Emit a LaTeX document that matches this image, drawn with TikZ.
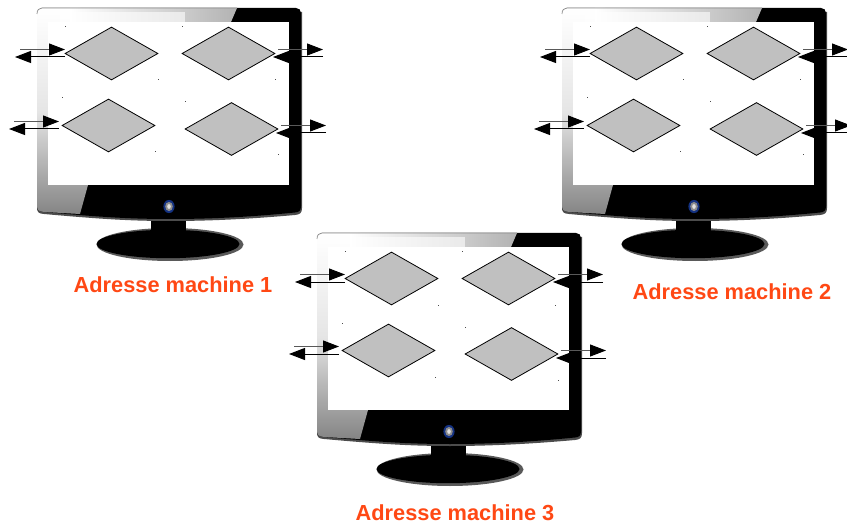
\documentclass[tikz,border=0pt]{standalone}
\usepackage{fontspec}
\setmainfont{Liberation Sans}
\usetikzlibrary{shapes.geometric,arrows.meta,calc}
\definecolor{lbl}{RGB}{255,72,20}
\definecolor{gatefill}{RGB}{192,192,192}
\definecolor{knob}{RGB}{20,50,130}
\tikzset{
  gate/.style={diamond,draw=black,line width=0.8pt,fill=gatefill,minimum width=93pt,minimum height=53pt,inner sep=0pt,aspect=1.75},
  flowup/.style={draw=black!65,line width=1pt,-{Triangle[length=16pt,width=12pt,fill=black,color=black]}},
  flowdn/.style={draw=black,line width=1pt,-{Triangle[length=16pt,width=12pt,fill=black]}},
  tick/.style={fill=black!70,inner sep=0pt,minimum size=1pt,rectangle},
  caption/.style={text=lbl,font=\bfseries\fontsize{21.8}{24}\selectfont,inner sep=0pt,anchor=center}
}
\newcommand{\mymonitor}[3]{%
\begin{scope}[shift={(#2,#3)}]
  % foot
  \fill[black!65] (170,244.5) ellipse (73.5 and 16.5);
  \fill[black] (168,244) ellipse (71.5 and 14.2);
  \fill[black] (151,215) rectangle (186,231.5);
  % frame
  \fill[black!70] (37,12) -- (37,207) .. controls (37,212) and (38,213.5) .. (44,214)
     .. controls (100,219) and (130,221) .. (170,221)
     .. controls (210,221) and (250,219) .. (295,215)
     .. controls (300,214.5) and (302,213) .. (302,208) -- (302,12) -- cycle;
  \fill[black] (37,13) .. controls (37,10) and (39,8) .. (42,8) -- (296,8)
     .. controls (299,8) and (301,10) .. (301,13) -- (301,206)
     .. controls (301,211) and (299,212) .. (295,212.5)
     .. controls (250,217) and (210,219) .. (170,219)
     .. controls (130,219) and (100,217) .. (44,212)
     .. controls (39,211.5) and (37,210) .. (37,206) -- cycle;
  % light part, left
  \shade[top color=white,bottom color=black!48,middle color=black!10]
     (37,14) .. controls (37,10) and (39,8) .. (42,8) -- (80,8) -- (88,185) -- (80,214) -- (44,212)
     .. controls (39,211.5) and (37,210) .. (37,206) -- cycle;
  % light part, top
  \shade[left color=white,right color=black!30] (70,8) -- (237,8) -- (231,22) -- (70,22) -- cycle;
  \fill[white,opacity=0.6] (60,12) rectangle (185,22);
  \draw[black!45,line width=0.7pt] (37,14) .. controls (37,10) and (39,8) .. (42,8) -- (237,8);
  % screen
  \fill[white] (48,22) rectangle (289,185);
  % button
  \fill[knob] (169,206.5) ellipse (5.6 and 6.6);
  \fill[black!45] (169,206.5) ellipse (3.8 and 4.6);
  \fill[black!12] (169,206.5) ellipse (1.8 and 2.4);
  % gates
  \node[gate] (#1a) at (111.5,53.5) {};
  \node[gate] (#1b) at (228.5,53.5) {};
  \node[gate] (#1c) at (108.5,125.5) {};
  \node[gate] (#1d) at (231.5,129) {};
  % specks
  \foreach \p/\q [count=\k] in {65/27,158/80,62/98,155/152,182/27,275/80,185/102,278/155}
    \node[tick] (#1t\k) at (\p,\q) {};
  % free ends of the connectors
  \coordinate (#1a1) at (20,49.5);  \coordinate (#1a2) at (65,49.5);
  \coordinate (#1a3) at (65,57);    \coordinate (#1a4) at (15,57);
  \coordinate (#1b1) at (278,49.5); \coordinate (#1b2) at (323,49.5);
  \coordinate (#1b3) at (323,57);   \coordinate (#1b4) at (273,57);
  \coordinate (#1c1) at (14,121.5); \coordinate (#1c2) at (59,121.5);
  \coordinate (#1c3) at (59,129);   \coordinate (#1c4) at (9,129);
  \coordinate (#1d1) at (281,125.5);\coordinate (#1d2) at (326,125.5);
  \coordinate (#1d3) at (326,133);  \coordinate (#1d4) at (276,133);
  \foreach \g in {a,b,c,d}{
    \draw[flowup] (#1\g1) -- (#1\g2);
    \draw[flowdn] (#1\g3) -- (#1\g4);
  }
\end{scope}}
\begin{document}
\begin{tikzpicture}[x=1pt,y=-1pt]
  \useasboundingbox (0,0) rectangle (847,524);
  \mymonitor{p}{0}{0}
  \mymonitor{q}{525}{0}
  \mymonitor{r}{280}{225}
  \node[caption] (cap1) at (173,284.5) {Adresse machine 1};
  \node[caption] (cap2) at (732,291.5) {Adresse machine 2};
  \node[caption] (cap3) at (455,512.5) {Adresse machine 3};
\end{tikzpicture}
\end{document}
